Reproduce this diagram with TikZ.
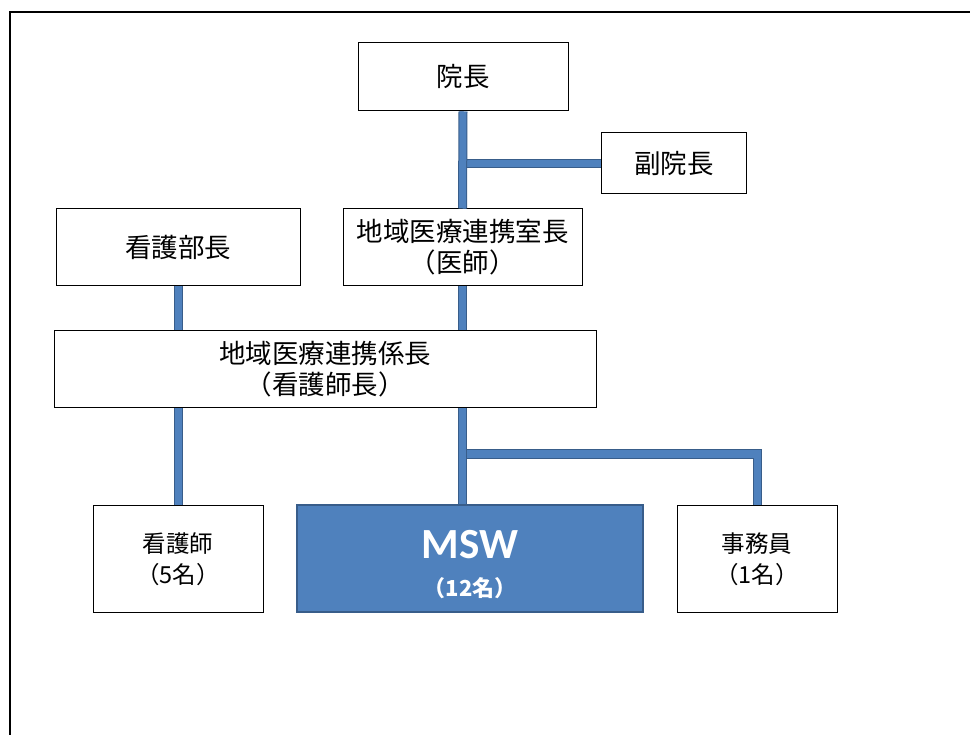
\documentclass[tikz,border=0pt]{standalone}
\usepackage{fontspec}
\setmainfont{Noto Sans CJK JP}
\newfontfamily\mswfont{Carlito}
\definecolor{cfill}{HTML}{4F81BD}
\definecolor{cdark}{HTML}{385D8A}
\tikzset{
  box/.style={draw=black, line width=1pt, fill=white, inner sep=0pt, align=center,
    font=\fontsize{26.5}{31}\selectfont},
  smallbox/.style={box, font=\fontsize{23.5}{31}\selectfont},
  bluebox/.style={draw=cdark, line width=1.2pt, fill=cfill, inner sep=0pt},
  conn/.style={draw=cdark, line width=1pt, double=cfill, double distance=7pt, line join=miter},
  frame/.style={draw=black, line width=2pt}
}
\begin{document}
\begin{tikzpicture}[x=1pt,y=-1pt]
\useasboundingbox (0,0) rectangle (970,735);
\fill[white] (0,0) rectangle (970,735);
\draw[frame] (10,736) -- (10,12) -- (971,12);

\node[box, minimum width=210pt, minimum height=68pt] (inchou) at (463,77) {院長};
\node[box, minimum width=145pt, minimum height=61pt] (fuku) at (674,163.5) {副院長};
\node[box, minimum width=244pt, minimum height=77pt] (bucho) at (178,247.5) {看護部長};
\node[box, minimum width=239pt, minimum height=77pt] (shitsu) at (462.5,247.5) {地域医療連携室長\\（医師）};
\node[box, minimum width=542pt, minimum height=77pt] (kakari) at (325,369.5) {地域医療連携係長\\（看護師長）};
\node[smallbox, minimum width=170pt, minimum height=107pt] (kango) at (178,559) {看護師\\（5名）};
\node[bluebox, minimum width=346pt, minimum height=107pt] (msw) at (470,558.5) {};
\node[text=white, inner sep=0pt, font=\mswfont\bfseries\fontsize{43}{43}\selectfont] (mswt) at (470,545) {MSW};
\node[text=white, inner sep=0pt, font=\bfseries\fontsize{22}{22}\selectfont] (mswn) at (470,588) {（12名）};
\node[smallbox, minimum width=160pt, minimum height=107pt] (jimu) at (757,559) {事務員\\（1名）};

\coordinate (j1) at (462,454);

\draw[conn] (fuku.west) -- (fuku.west -| inchou.south);
\draw[conn] (inchou.south) -- (shitsu.north);
\draw[conn] (bucho.south) -- (bucho.south |- kakari.north);
\draw[conn] (shitsu.south) -- (shitsu.south |- kakari.north);
\draw[conn] (kakari.south -| kango.north) -- (kango.north);
\draw[conn] (j1) -- (j1 -| jimu.north) -- (jimu.north);
\draw[conn] (kakari.south -| j1) -- (msw.north -| j1);
\end{tikzpicture}
\end{document}
